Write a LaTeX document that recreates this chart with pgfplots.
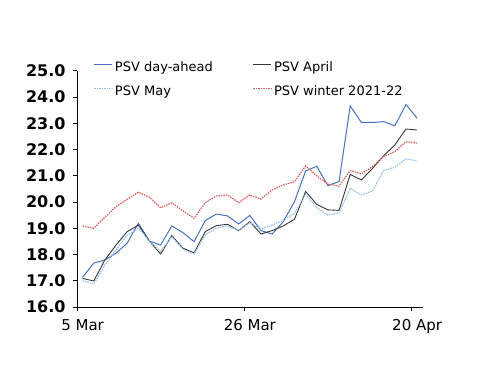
\documentclass[border=0pt]{standalone}
\usepackage{fontspec}
\setmainfont{DejaVu Sans}
\usepackage{pgfplots}
\pgfplotsset{compat=1.18}
\usepackage{pgfplotstable}
\definecolor{cDA}{RGB}{68,114,196}
\definecolor{cApr}{RGB}{55,55,55}
\definecolor{cMay}{RGB}{150,192,232}
\definecolor{cWin}{RGB}{224,96,96}
\pgfplotstableread{
i DA Apr May Win
0 17.13 17.09 17.00 19.09
1 17.67 16.99 16.88 19.00
2 17.79 17.79 17.60 19.42
3 18.05 18.36 18.17 19.82
4 18.43 18.87 18.74 20.10
5 19.19 19.12 19.00 20.37
6 18.51 18.51 18.51 20.18
7 18.36 18.02 18.11 19.78
8 19.09 18.72 18.68 19.97
9 18.83 18.24 18.20 19.66
10 18.49 18.06 18.02 19.38
11 19.29 18.87 18.74 19.97
12 19.54 19.10 19.00 20.23
13 19.47 19.15 19.09 20.27
14 19.16 18.91 18.91 19.97
15 19.49 19.25 19.21 20.27
16 18.91 18.78 18.96 20.11
17 18.78 18.91 19.12 20.46
18 19.25 19.09 19.31 20.65
19 20.01 19.34 19.57 20.77
20 21.18 20.40 20.29 21.37
21 21.36 19.91 19.78 21.00
22 20.62 19.70 19.50 20.68
23 20.78 19.68 19.58 20.60
24 23.66 21.05 20.52 21.20
25 23.03 20.84 20.27 21.07
26 23.03 21.28 20.42 21.35
27 23.06 21.76 21.20 21.73
28 22.90 22.17 21.32 21.92
29 23.71 22.78 21.64 22.30
30 23.19 22.74 21.57 22.24
}\data
\begin{document}
\begin{tikzpicture}
\useasboundingbox (0,0) rectangle (500bp,386bp);
\begin{axis}[
  at={(77bp,79bp)}, anchor=south west,
  scale only axis, width=345.7bp, height=236.3bp,
  xmin=-0.5, xmax=30.5, ymin=16, ymax=25,
  axis x line*=bottom, axis y line*=left,
  axis line style={black, line width=0.8bp},
  tick style={black, line width=0.8bp},
  tick align=outside, major tick length=4bp,
  ytick={16,17,...,25},
  /pgf/number format/assume math mode=true,
  /pgf/number format/.cd, fixed, fixed zerofill, precision=1, /pgfplots/.cd,
  yticklabel style={font=\fontsize{16bp}{18bp}\selectfont\bfseries, xshift=-4bp},
  xtick={-0.5,14.5,29.5}, xticklabels={},
  extra x ticks={0,15,30},
  extra x tick labels={5 Mar,26 Mar,20 Apr},
  extra x tick style={major tick length=0pt, tick style={draw=none},
    xticklabel style={font=\fontsize{15bp}{18bp}\selectfont, yshift=-9bp}},
  legend columns=2,
  legend cell align=left,
  legend style={draw=none, fill=none, at={(0.048,1.048)}, anchor=north west,
    font=\fontsize{13bp}{15bp}\selectfont,
    /tikz/every even column/.append style={column sep=38bp},
    row sep=9bp, inner sep=0pt},
  legend image code/.code={\draw[#1] (0bp,0.5ex) -- (18bp,0.5ex);},
]
\addplot[cDA, line width=1bp] table[x=i, y=DA] {\data};
\addlegendentry{PSV day-ahead}
\addplot[cApr, line width=0.9bp] table[x=i, y=Apr] {\data};
\addlegendentry{PSV April}
\addplot[cMay, line width=1.2bp, dash pattern=on 1.5bp off 1bp] table[x=i, y=May] {\data};
\addlegendentry{PSV May}
\addplot[cWin, line width=1.2bp, dash pattern=on 1.5bp off 1bp] table[x=i, y=Win] {\data};
\addlegendentry{PSV winter 2021-22}
\end{axis}
\end{tikzpicture}
\end{document}
